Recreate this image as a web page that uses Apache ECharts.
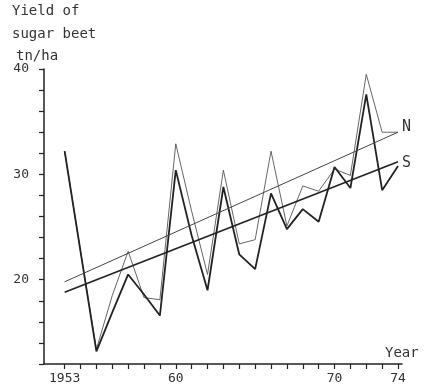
<!DOCTYPE html>
<html>
<head>
<meta charset="utf-8">
<script src="https://cdn.jsdelivr.net/npm/echarts@6/dist/echarts.min.js"></script>
<style>html,body{margin:0;padding:0;background:#fff}#c{width:424px;height:391px}</style>
</head>
<body>
<div id="c"></div>
<script>
const years = [1953,1954,1955,1956,1957,1958,1959,1960,1961,1962,1963,1964,1965,1966,1967,1968,1969,1970,1971,1972,1973,1974];
const yieldN = [32.2,22.7,13.4,18.5,22.7,18.3,18.1,32.9,26.5,20.5,30.4,23.4,23.8,32.2,25.1,28.9,28.4,30.5,29.9,39.5,34.0,34.0];
const yieldS = [32.2,22.7,13.2,16.9,20.5,18.6,16.6,30.4,24.2,19.0,28.8,22.4,21.0,28.2,24.8,26.7,25.5,30.7,28.7,37.6,28.5,30.8];
const trendYears = [1953, 1974];
const trendN = [19.8, 34.0];
const trendS = [18.8, 31.2];
const xLabelValues = [1953, 1960, 1970, 1974];
const xLabelText = {1953: '1953', 1960: '60', 1970: '70', 1974: '74'};
const yLabelValues = [20, 30, 40];

const FONT = 'DejaVu Sans Mono';
const INK = '#222';
const pair = (xs, ys) => xs.map((x, i) => [x, ys[i]]);

const chart = echarts.init(document.getElementById('c'), null, {renderer: 'canvas'});
chart.setOption({
  animation: false,
  backgroundColor: '#fff',
  grid: {left: 44, top: 69, right: 22, bottom: 27, containLabel: false},
  xAxis: {
    type: 'value', min: 1951.7, max: 1974.25,
    splitLine: {show: false},
    axisLine: {lineStyle: {color: INK, width: 1.5}},
    axisTick: {show: true, length: 5, lineStyle: {color: INK, width: 1.2}, customValues: years},
    axisLabel: {customValues: xLabelValues, formatter: v => xLabelText[v] || '', color: '#333',
      fontFamily: FONT, fontSize: 13, margin: 8}
  },
  yAxis: {
    type: 'value', min: 12, max: 40, interval: 2,
    splitLine: {show: false},
    axisLine: {show: true, lineStyle: {color: INK, width: 1.5}},
    axisTick: {show: true, length: 5, lineStyle: {color: INK, width: 1.2}},
    axisLabel: {customValues: yLabelValues, color: '#333', fontFamily: FONT, fontSize: 13, margin: 15}
  },
  graphic: [
    {type: 'text', left: 12, top: 4, style: {text: 'Yield of', font: '14px "DejaVu Sans Mono"', fill: '#333'}},
    {type: 'text', left: 12, top: 27, style: {text: 'sugar beet', font: '14px "DejaVu Sans Mono"', fill: '#333'}},
    {type: 'text', left: 16, top: 49, style: {text: 'tn/ha', font: '14px "DejaVu Sans Mono"', fill: '#333'}},
    {type: 'text', left: 385, top: 346, style: {text: 'Year', font: '14px "DejaVu Sans Mono"', fill: '#333'}}
  ],
  series: [
    {type: 'line', data: pair(years, yieldN), symbol: 'none', lineStyle: {color: '#555', width: 0.9}, z: 2},
    {type: 'line', data: pair(years, yieldS), symbol: 'none', lineStyle: {color: INK, width: 1.8}, z: 3},
    {type: 'line', data: pair(trendYears, trendN), symbol: 'none', lineStyle: {color: '#444', width: 1},
      endLabel: {show: true, formatter: 'N', fontFamily: FONT, fontSize: 15, color: '#333', distance: 4, offset: [0, -5]}},
    {type: 'line', data: pair(trendYears, trendS), symbol: 'none', lineStyle: {color: INK, width: 1.6},
      endLabel: {show: true, formatter: 'S', fontFamily: FONT, fontSize: 15, color: '#333', distance: 4, offset: [0, 1]}}
  ]
});
</script>
</body>
</html>
